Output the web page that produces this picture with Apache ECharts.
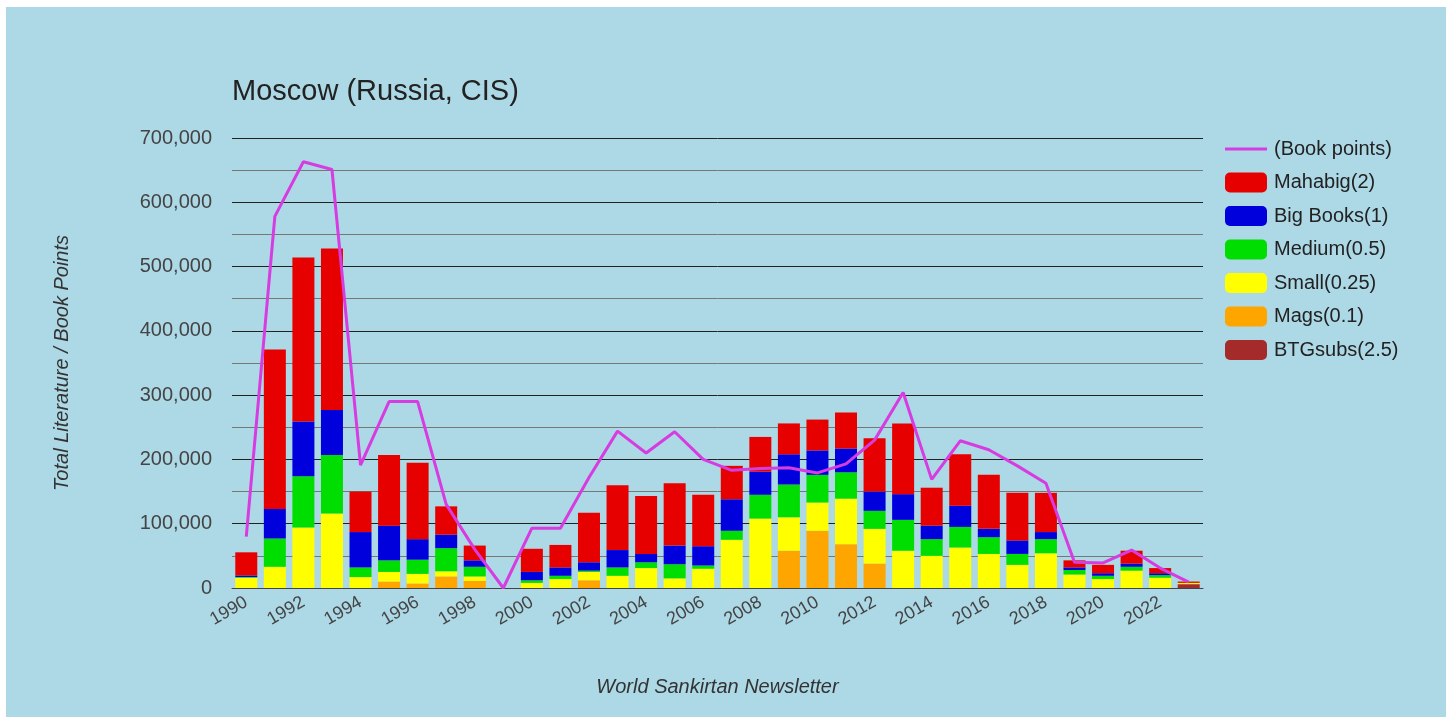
<!DOCTYPE html>
<html><head><meta charset="utf-8">
<script src="https://cdn.jsdelivr.net/npm/echarts@6/dist/echarts.min.js"></script>
<style>
html,body{margin:0;padding:0;background:#fff;width:1452px;height:717px;overflow:hidden;}
#c{position:absolute;left:6px;top:7px;width:1440px;height:710px;background:#add8e6;}
</style></head>
<body><div id="c"></div>
<script>
const years = ['1990','1991','1992','1993','1994','1995','1996','1997','1998','1999','2000','2001','2002','2003','2004','2005','2006','2007','2008','2009','2010','2011','2012','2013','2014','2015','2016','2017','2018','2019','2020','2021','2022','2023'];
const btgSubs = [0,0,0,0,0,0,0,0,0,0,0,0,0,0,0,0,0,0,0,0,0,0,0,0,0,0,0,0,0,0,0,0,0,6000];
const mags    = [0,0,0,0,0,10000,7000,18000,11000,0,0,0,12000,0,0,0,0,0,0,58000,89000,68000,38000,0,0,0,0,0,0,0,0,0,0,0];
const small   = [16000,33000,94000,116000,17000,15000,15000,8000,7000,0,8000,14000,13000,19000,31000,15000,30000,75000,108000,52000,44000,71000,54000,58000,50000,63000,53000,36000,54000,21000,14000,27000,16000,2000];
const medium  = [1000,44000,80000,91000,15000,18000,22000,36000,15000,0,4000,5000,2000,13000,9000,22000,5000,14000,37000,51000,43000,41000,28000,48000,26000,32000,26000,17000,22000,7000,5000,6000,4000,0];
const bigBooks= [2500,46000,85000,70000,55000,54000,32000,21000,10000,0,13000,13000,13000,27000,13000,29000,30000,49000,36000,47000,38000,37000,30000,40000,21000,33000,13000,21000,11000,4000,4000,5000,3000,0];
const mahabig = [36000,248000,255000,251000,63000,110000,119000,44000,23000,0,36000,35000,77000,101000,90000,97000,80000,52000,54000,48000,48000,56000,83000,110000,59000,80000,84000,74000,61000,11000,13000,20000,8000,2000];
const bookPoints = [80000,578000,663000,651000,191000,290000,290000,130000,60000,0,93000,93000,172000,244000,210000,243000,200000,183000,186000,187000,179000,193000,230000,304000,169000,229000,215000,190000,163000,40000,39000,59000,31000,9000];
const yTicks = [0,100000,200000,300000,400000,500000,600000,700000];

const font = '"Liberation Sans", Arial, sans-serif';
function barSeries(name, data, color){
  return {name, type:'bar', stack:'lit', data, barWidth:22, itemStyle:{color}, emphasis:{disabled:true}};
}
const chart = echarts.init(document.getElementById('c'), null, {renderer:'canvas'});
chart.setOption({
  animation:false,
  backgroundColor:'#add8e6',
  textStyle:{fontFamily:font},
  title:{text:'Moscow (Russia, CIS)', left:226, top:70, padding:0,
    textStyle:{fontFamily:font, fontSize:29, fontWeight:'normal', color:'#222'}},
  legend:{orient:'vertical', left:1219, top:132, padding:0, itemWidth:42, itemHeight:20, itemGap:13.5,
    textStyle:{fontFamily:font, fontSize:20, color:'#222', padding:[0,0,0,2]},
    data:[{name:'(Book points)', icon:'path://M0,0L14,0L14,1L0,1Z'},'Mahabig(2)','Big Books(1)','Medium(0.5)','Small(0.25)','Mags(0.1)','BTGsubs(2.5)']},
  grid:{left:226, right:243, top:131, bottom:129, containLabel:false},
  xAxis:{type:'category', data:years,
    axisTick:{show:false},
    axisLine:{lineStyle:{color:'#444', width:1}},
    axisLabel:{interval:1, rotate:30, fontSize:18, color:'#444', fontFamily:font, margin:13},
    name:'World Sankirtan Newsletter', nameLocation:'middle', nameGap:89,
    nameTextStyle:{fontSize:20, fontStyle:'italic', color:'#333', fontFamily:font}},
  yAxis:{type:'value', min:0, max:700000, interval:100000,
    axisLine:{show:false}, axisTick:{show:false},
    axisLabel:{fontSize:20, color:'#444', margin:20, fontFamily:font,
      formatter:v=>yTicks.includes(v)?v.toLocaleString('en-US'):''},
    splitLine:{lineStyle:{color:'#222', width:1}},
    minorTick:{show:false, splitNumber:2},
    minorSplitLine:{show:true, lineStyle:{color:'#777', width:1}},
    name:'Total Literature / Book Points', nameLocation:'middle', nameGap:160,
    nameTextStyle:{fontSize:20, fontStyle:'italic', color:'#333', fontFamily:font}},
  series:[
    barSeries('BTGsubs(2.5)', btgSubs, '#a52a2a'),
    barSeries('Mags(0.1)', mags, '#ffa500'),
    barSeries('Small(0.25)', small, '#ffff00'),
    barSeries('Medium(0.5)', medium, '#00dd00'),
    barSeries('Big Books(1)', bigBooks, '#0000dd'),
    barSeries('Mahabig(2)', mahabig, '#e60000'),
    {name:'(Book points)', type:'line', data:bookPoints, symbol:'none', z:5,
      lineStyle:{color:'#d63ce0', width:3}, itemStyle:{color:'#d63ce0'}, emphasis:{disabled:true}}
  ]
});
</script></body></html>
